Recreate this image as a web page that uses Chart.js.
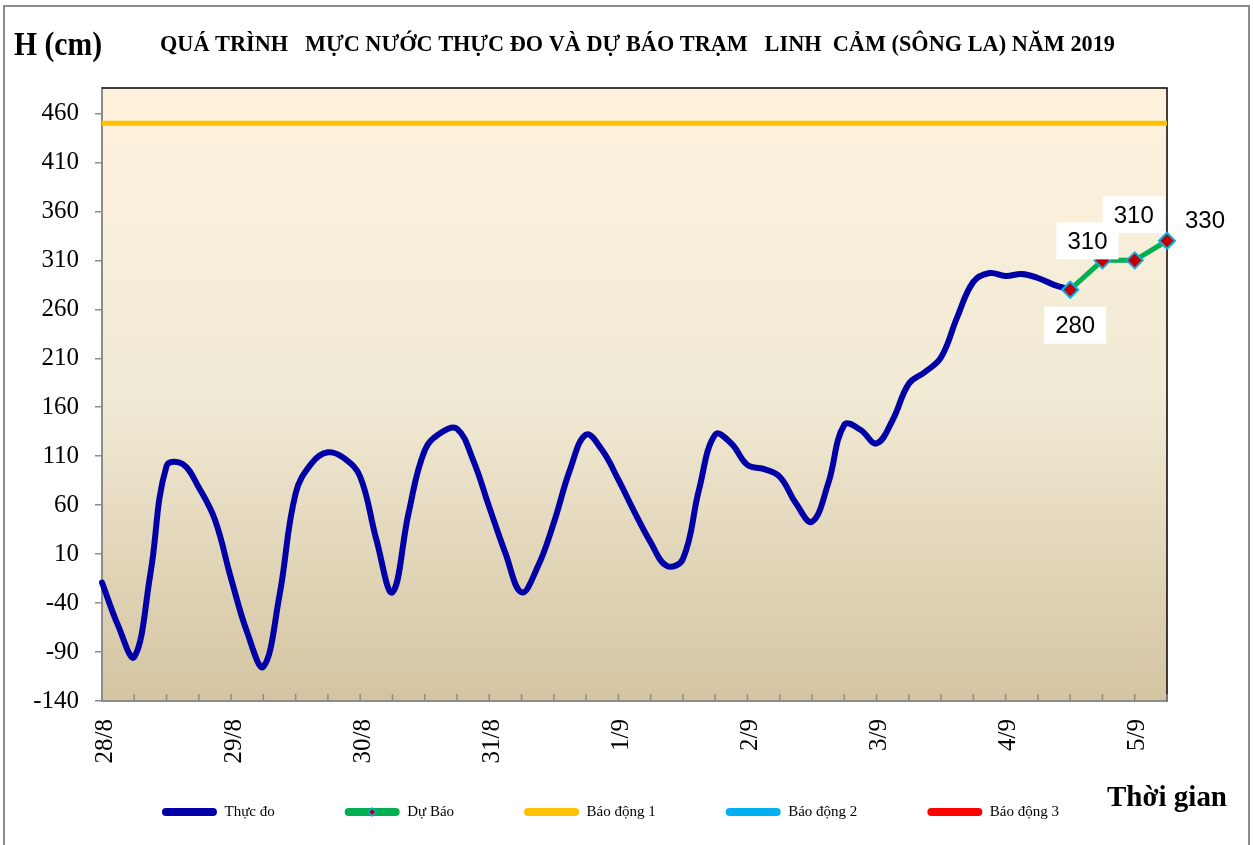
<!DOCTYPE html>
<html>
<head>
<meta charset="utf-8">
<script src="https://cdn.jsdelivr.net/npm/chart.js@4.4.1/dist/chart.umd.min.js"></script>
<style>
    html, body { margin: 0; padding: 0; background: #fff; overflow: hidden; }
    #frame { position: absolute; left: 3px; top: 5px; width: 1247px; height: 900px; border: 2px solid #8c8c8c; box-sizing: border-box; }
    #wrap { position: absolute; left: 0; top: 0; width: 1253px; height: 845px; }
</style>
</head>
<body>
<div id="frame"></div>
<div id="wrap"><canvas id="levelChart" width="1253" height="845"></canvas></div>
<script>
// Mực nước trạm Linh Cảm (cm), số liệu 3 giờ một
const days = ['28/8', '29/8', '30/8', '31/8', '1/9', '2/9', '3/9', '4/9', '5/9'];
const hours = ['0h', '3h', '6h', '9h', '12h', '15h', '18h', '21h'];
const observed = [
    -19, -63, -95, -10, 100, 102, 78, 45,
    -15, -70, -105, -32, 72, 103, 114, 108,
    89, 25, -29, 52, 116, 134, 138, 106,
    58, 11, -29, -3, 42, 96, 132, 116,
    86, 53, 22, -2, 5, 76, 132, 123,
    101, 97, 89, 62, 43, 82, 142, 137,
    123, 147, 184, 196, 211, 252, 288, 297,
    294, 296, 292, 285, 280
];
const forecastIndex = [60, 62, 64, 66];
const forecastValues = [280, 310, 310, 330];
const alarmLevels = [450, 550, 650];
const yTicks = [-140, -90, -40, 10, 60, 110, 160, 210, 260, 310, 360, 410, 460];

const seriesNames = ['Thực đo', 'Dự Báo', 'Báo động 1', 'Báo động 2', 'Báo động 3'];
const seriesColors = ['#0000a6', '#00b050', '#ffc000', '#00b0f0', '#ff0000'];
const labelOffsets = [[5, 36], [-15, -19], [-1, -45], [38, -20]];

const titleText = 'QUÁ TRÌNH   MỰC NƯỚC THỰC ĐO VÀ DỰ BÁO TRẠM   LINH  CẢM (SÔNG LA) NĂM 2019';

// nhãn thời gian cho trục x
const timeLabels = days.flatMap(d => hours.map(h => d + ' ' + h)).slice(0, 67);
const observedData = timeLabels.map((_, i) => i < observed.length ? observed[i] : null);
const forecastData = timeLabels.map(() => null);
forecastIndex.forEach((k, j) => { forecastData[k] = forecastValues[j]; });

function fitText(ctx, text, x, y, font, width, align) {
    ctx.save();
    ctx.font = font;
    const w = ctx.measureText(text).width;
    ctx.translate(x, y);
    ctx.scale(width / w, 1);
    ctx.textAlign = align;
    ctx.textBaseline = 'middle';
    ctx.fillStyle = '#000';
    ctx.fillText(text, 0, 0);
    ctx.restore();
}

// chú thích vẽ tay ở dưới biểu đồ
function drawLegend(chart) {
    const ctx = chart.ctx;
    const datasets = chart.data.datasets;
    const boxW = 55, gap = 7.5, pad = 70, y = 812, center = 610.5;
    ctx.save();
    ctx.font = '15px "Liberation Serif"';
    const widths = datasets.map(ds => boxW + gap + ctx.measureText(ds.label).width);
    const total = widths.reduce((s, w) => s + w, 0) + pad * (datasets.length - 1);
    let x = center - total / 2;
    datasets.forEach((ds, i) => {
        ctx.fillStyle = ds.borderColor;
        ctx.beginPath();
        ctx.roundRect(x, y - 4, boxW, 8, 4);
        ctx.fill();
        if (ds.pointStyle) {
            ctx.fillStyle = ds.pointBackgroundColor;
            ctx.strokeStyle = ds.pointBorderColor;
            ctx.lineWidth = 1.5;
            Chart.helpers.drawPoint(ctx, {
                pointStyle: ds.pointStyle, radius: 4, borderWidth: 1.5
            }, x + boxW / 2, y);
        }
        ctx.fillStyle = '#000';
        ctx.textAlign = 'left';
        ctx.textBaseline = 'middle';
        ctx.fillText(ds.label, x + boxW + gap, y);
        x += widths[i] + pad;
    });
    ctx.restore();
}

const framePlugin = {
    id: 'framePlugin',
    beforeDraw(chart) {
        const { ctx, chartArea: a } = chart;
        const g = ctx.createLinearGradient(0, a.top, 0, a.bottom);
        g.addColorStop(0, '#fef2dd');
        g.addColorStop(0.5, '#f1ead5');
        g.addColorStop(1, '#d4c4a1');
        ctx.save();
        ctx.fillStyle = g;
        ctx.fillRect(a.left, a.top, a.right - a.left, a.bottom - a.top);
        ctx.restore();
    },
    beforeDatasetsDraw(chart) {
        const { ctx, chartArea: a } = chart;
        ctx.save();
        // khung trên và phải
        ctx.strokeStyle = '#000';
        ctx.lineWidth = 1.5;
        ctx.beginPath();
        ctx.moveTo(a.left, a.top);
        ctx.lineTo(a.right, a.top);
        ctx.lineTo(a.right, a.bottom);
        ctx.stroke();
        // vạch chia trục x hướng vào trong
        const xs = chart.scales.x;
        ctx.strokeStyle = '#8c8c8c';
        ctx.lineWidth = 1.5;
        for (let i = 1; i < xs.ticks.length; i++) {
            const px = xs.getPixelForTick(i);
            ctx.beginPath();
            ctx.moveTo(px, a.bottom);
            ctx.lineTo(px, a.bottom - 7);
            ctx.stroke();
        }
        ctx.restore();
    },
    afterDatasetsDraw(chart) {
        const ctx = chart.ctx;
        const meta = chart.getDatasetMeta(1);
        const data = chart.data.datasets[1].data;
        ctx.save();
        ctx.font = '24px "Liberation Sans"';
        ctx.textAlign = 'center';
        ctx.textBaseline = 'middle';
        forecastIndex.forEach((k, j) => {
            const pt = meta.data[k];
            const cx = pt.x + labelOffsets[j][0];
            const cy = pt.y + labelOffsets[j][1];
            ctx.fillStyle = '#fff';
            ctx.fillRect(cx - 31, cy - 19, 62, 37);
            ctx.fillStyle = '#000';
            ctx.fillText(String(data[k]), cx, cy + 1);
        });
        ctx.restore();
    },
    afterDraw(chart) {
        const ctx = chart.ctx;
        fitText(ctx, 'H (cm)', 14, 46, 'bold 33px "Liberation Serif"', 88, 'left');
        fitText(ctx, titleText, 637.5, 45.5, 'bold 23px "Liberation Serif"', 955, 'center');
        fitText(ctx, 'Thời gian', 1107, 798, 'bold 30px "Liberation Serif"', 120, 'left');
        drawLegend(chart);
    }
};

const ctxLevel = document.getElementById('levelChart').getContext('2d');
new Chart(ctxLevel, {
    type: 'line',
    data: {
        labels: timeLabels,
        datasets: [
            {
                label: seriesNames[0],
                data: observedData,
                borderColor: seriesColors[0],
                borderWidth: 6,
                tension: 0.4,
                pointRadius: 0,
                borderCapStyle: 'round',
                borderJoinStyle: 'round',
                order: 1
            },
            {
                label: seriesNames[1],
                data: forecastData,
                borderColor: seriesColors[1],
                borderWidth: 5,
                spanGaps: true,
                tension: 0,
                pointStyle: 'rectRot',
                pointRadius: 8,
                pointBackgroundColor: '#c00000',
                pointBorderColor: '#00b0f0',
                pointBorderWidth: 2,
                clip: false,
                order: 0
            },
            ...alarmLevels.map((lv, i) => ({
                label: seriesNames[2 + i],
                data: timeLabels.map(() => lv),
                borderColor: seriesColors[2 + i],
                borderWidth: 5,
                pointRadius: 0,
                order: 2
            }))
        ]
    },
    options: {
        responsive: false,
        animation: false,
        devicePixelRatio: 1,
        layout: { padding: { top: 88, left: 0, right: 86, bottom: 69 } },
        plugins: {
            title: { display: false },
            tooltip: { enabled: false },
            legend: { display: false }
        },
        scales: {
            x: {
                type: 'category',
                offset: false,
                afterBuildTicks: (scale) => { scale.ticks = scale.ticks.filter(t => t.value % 2 === 0); },
                afterFit: (scale) => { scale.height = 75; },
                grid: { display: false, drawTicks: false },
                border: { display: true, color: '#8c8c8c', width: 2 },
                ticks: {
                    autoSkip: false,
                    minRotation: 90,
                    maxRotation: 90,
                    padding: 18,
                    labelOffset: 3,
                    color: '#000',
                    font: { family: '"Liberation Serif"', size: 25 },
                    callback: (value) => value % 8 === 0 ? days[value / 8] : ''
                }
            },
            y: {
                min: -140,
                max: 486,
                afterBuildTicks: (scale) => { scale.ticks = yTicks.map(v => ({ value: v })); },
                afterFit: (scale) => { scale.width = 102; },
                grid: { drawOnChartArea: false, drawTicks: true, tickLength: 7, color: '#8c8c8c', lineWidth: 1.5 },
                border: { display: true, color: '#8c8c8c', width: 2 },
                ticks: {
                    padding: 16,
                    color: '#000',
                    font: { family: '"Liberation Serif"', size: 25 }
                }
            }
        }
    },
    plugins: [framePlugin]
});
</script>
</body>
</html>
